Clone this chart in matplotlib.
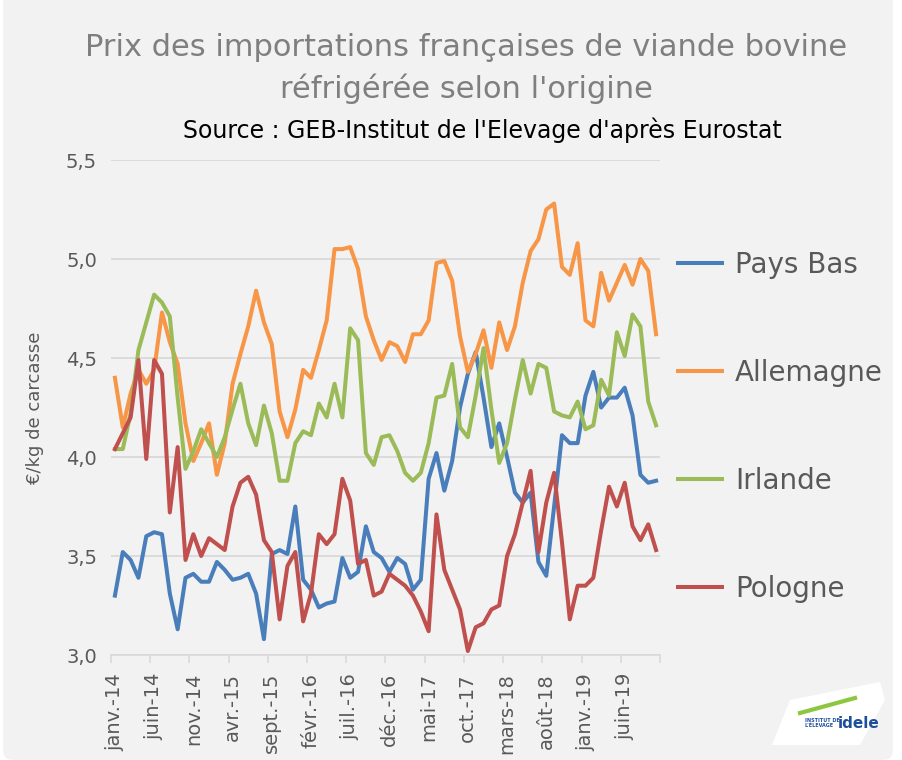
import matplotlib
matplotlib.use("Agg")
import matplotlib.pyplot as plt
from matplotlib.patches import FancyBboxPatch, Polygon
import numpy as np

# Monthly prices, janv. 2014 -> oct. 2019 (EUR/kg de carcasse)
pays_bas = [3.30, 3.52, 3.48, 3.39, 3.60, 3.62, 3.61, 3.31, 3.13, 3.39,
            3.41, 3.37, 3.37, 3.47, 3.43, 3.38, 3.39, 3.41, 3.31, 3.08,
            3.51, 3.53, 3.51, 3.75, 3.38, 3.33, 3.24, 3.26, 3.27, 3.49,
            3.39, 3.42, 3.65, 3.52, 3.49, 3.42, 3.49, 3.46, 3.33, 3.38,
            3.89, 4.02, 3.83, 3.98, 4.25, 4.42, 4.53, 4.30, 4.05, 4.17,
            4.00, 3.82, 3.77, 3.82, 3.47, 3.40, 3.75, 4.11, 4.07, 4.07,
            4.31, 4.43, 4.25, 4.30, 4.30, 4.35, 4.21, 3.91, 3.87, 3.88]
allemagne = [4.40, 4.15, 4.32, 4.44, 4.37, 4.44, 4.73, 4.58, 4.47, 4.17,
             3.98, 4.07, 4.17, 3.91, 4.07, 4.37, 4.52, 4.66, 4.84, 4.68,
             4.57, 4.23, 4.10, 4.24, 4.44, 4.40, 4.54, 4.69, 5.05, 5.05,
             5.06, 4.95, 4.71, 4.59, 4.49, 4.58, 4.56, 4.48, 4.62, 4.62,
             4.69, 4.98, 4.99, 4.89, 4.61, 4.43, 4.52, 4.64, 4.45, 4.68,
             4.54, 4.66, 4.88, 5.04, 5.10, 5.25, 5.28, 4.96, 4.92, 5.08,
             4.69, 4.66, 4.93, 4.79, 4.88, 4.97, 4.87, 5.00, 4.94, 4.62]
irlande = [4.04, 4.04, 4.22, 4.54, 4.68, 4.82, 4.78, 4.71, 4.30, 3.94,
           4.03, 4.14, 4.07, 4.00, 4.10, 4.24, 4.37, 4.17, 4.06, 4.26,
           4.12, 3.88, 3.88, 4.07, 4.13, 4.11, 4.27, 4.20, 4.37, 4.20,
           4.65, 4.59, 4.02, 3.96, 4.10, 4.11, 4.03, 3.92, 3.88, 3.92,
           4.07, 4.30, 4.31, 4.47, 4.15, 4.10, 4.31, 4.55, 4.24, 3.97,
           4.07, 4.29, 4.49, 4.32, 4.47, 4.45, 4.23, 4.21, 4.20, 4.28,
           4.14, 4.16, 4.39, 4.31, 4.63, 4.51, 4.72, 4.66, 4.28, 4.16]
pologne = [4.04, 4.12, 4.20, 4.49, 3.99, 4.49, 4.42, 3.72, 4.05, 3.48,
           3.61, 3.50, 3.59, 3.56, 3.53, 3.75, 3.87, 3.90, 3.81, 3.58,
           3.52, 3.18, 3.45, 3.52, 3.17, 3.31, 3.61, 3.56, 3.61, 3.89,
           3.78, 3.46, 3.48, 3.30, 3.32, 3.41, 3.38, 3.35, 3.30, 3.22,
           3.12, 3.71, 3.43, 3.33, 3.23, 3.02, 3.14, 3.16, 3.23, 3.25,
           3.50, 3.61, 3.77, 3.93, 3.52, 3.77, 3.92, 3.57, 3.18, 3.35,
           3.35, 3.39, 3.63, 3.85, 3.75, 3.87, 3.65, 3.58, 3.66, 3.53]

month_labels = ["janv.-14", "juin-14", "nov.-14", "avr.-15", "sept.-15",
                "févr.-16", "juil.-16", "déc.-16", "mai-17", "oct.-17",
                "mars-18", "août-18", "janv.-19", "juin-19"]

series = [("Pays Bas", pays_bas, "#4a7ebb"),
          ("Allemagne", allemagne, "#f79646"),
          ("Irlande", irlande, "#9bbb59"),
          ("Pologne", pologne, "#c0504d")]

plt.rcParams["font.family"] = ["DejaVu Sans"]
grey_txt = "#595959"

W, H = 903, 760
fig = plt.figure(figsize=(W / 100, H / 100), dpi=100, facecolor="white")

# rounded grey chart background
bg = FancyBboxPatch((3 / W, 0), (890 / W), (753 / H) + 0.05,
                    boxstyle="round,pad=0,rounding_size=0.012",
                    transform=fig.transFigure, facecolor="#f2f2f2",
                    edgecolor="none", zorder=-10)
fig.patches.append(bg)

ax = fig.add_axes([111 / W, 1 - 655 / H, 549 / W, 495 / H])
ax.set_facecolor("none")

x = np.arange(len(pays_bas))
for name, vals, col in series:
    ax.plot(x, vals, color=col, lw=2.9, label=name, solid_joinstyle="round")

ax.set_xlim(-0.5, len(x) - 0.5)
ax.set_ylim(3.0, 5.5)
yt = np.arange(3.0, 5.51, 0.5)
ax.set_yticks(yt)
ax.set_yticklabels([f"{v:.1f}".replace(".", ",") for v in yt])
ax.grid(axis="y", color="#d9d9d9", lw=1.3)
ax.set_axisbelow(True)

# tick marks between groups of 5 months, labels under the first month of each group
ax.set_xticks(np.arange(-0.5, len(x), 5))
ax.set_xticklabels([])
ax.set_xticks(np.arange(0, len(x), 5), month_labels, minor=True)
ax.tick_params(axis="x", which="major", length=6, width=1.2, color="#d9d9d9")
ax.tick_params(axis="x", which="minor", length=0, pad=13, labelrotation=90,
               labelsize=14, labelcolor=grey_txt)
ax.tick_params(axis="y", length=0, pad=10, labelsize=14, labelcolor=grey_txt)
for lab in ax.get_xticklabels(minor=True):
    lab.set_va("top")

for s in ["top", "right", "left"]:
    ax.spines[s].set_visible(False)
ax.spines["bottom"].set_color("#d9d9d9")
ax.spines["bottom"].set_linewidth(1.2)

ax.set_ylabel("€/kg de carcasse", fontsize=13, color=grey_txt, labelpad=16)

leg = ax.legend(loc="center left", bbox_to_anchor=(678 / W, 1 - 427 / H),
                bbox_transform=fig.transFigure, frameon=False, fontsize=20,
                labelspacing=2.88, handlelength=1.6, handletextpad=0.45,
                borderpad=0, borderaxespad=0)
for t in leg.get_texts():
    t.set_color(grey_txt)

fig.text(466 / W, 1 - 48 / H, "Prix des importations françaises de viande bovine",
         ha="center", va="center", fontsize=22, color="#7f7f7f")
fig.text(466 / W, 1 - 89 / H, "réfrigérée selon l'origine",
         ha="center", va="center", fontsize=22, color="#7f7f7f")
fig.text(482 / W, 1 - 130 / H, "Source : GEB-Institut de l'Elevage d'après Eurostat",
         ha="center", va="center", fontsize=17, color="black")

# idele logo in the corner
logo = Polygon([(772 / W, 1 - 745 / H), (790 / W, 1 - 700 / H), (880 / W, 1 - 682 / H),
                (885 / W, 1 - 700 / H), (860 / W, 1 - 745 / H)],
               closed=True, transform=fig.transFigure, facecolor="white",
               edgecolor="none", joinstyle="round")
fig.patches.append(logo)
fig.add_artist(plt.Line2D([800 / W, 855 / W], [1 - 713 / H, 1 - 698 / H],
                          color="#8dc63f", lw=3, transform=fig.transFigure))
fig.text(838 / W, 1 - 723 / H, "idele", fontsize=11, fontweight="bold",
         color="#1f4e9c", ha="left", va="center")
fig.text(805 / W, 1 - 723 / H, "INSTITUT DE\nL'ÉLEVAGE", fontsize=3.5,
         fontweight="bold", color="#1f4e9c", ha="left", va="center")

fig.savefig("out.png", dpi=100, facecolor="white")
